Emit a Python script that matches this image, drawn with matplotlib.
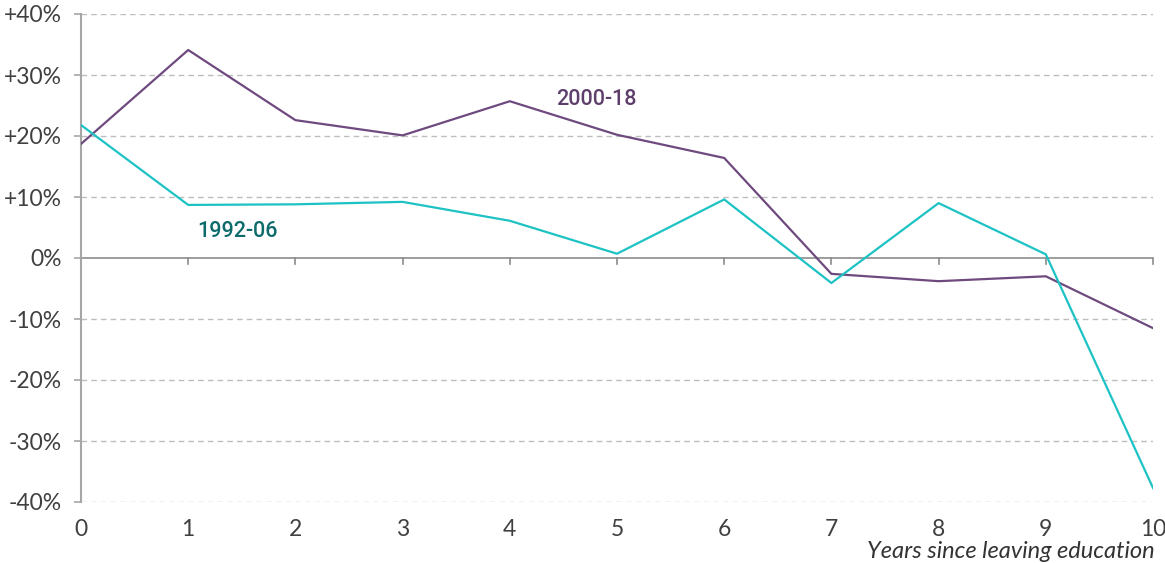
import matplotlib
matplotlib.use("Agg")
import matplotlib.pyplot as plt
from matplotlib.ticker import FuncFormatter

years = list(range(0, 11))
series_2000_18 = [18.7, 34.1, 22.6, 20.1, 25.7, 20.2, 16.4, -2.6, -3.8, -3.0, -11.5]
series_1992_06 = [21.8, 8.7, 8.8, 9.2, 6.1, 0.7, 9.6, -4.1, 9.0, 0.6, -37.7]
y_ticks = [-40, -30, -20, -10, 0, 10, 20, 30, 40]

purple = "#6E4A7E"
teal = "#1DC2C4"
grey = "#A6A6A6"
text_col = "#404040"

plt.rcParams['font.family'] = ['Lato', 'DejaVu Sans']

fig = plt.figure(figsize=(11.65, 5.63), dpi=100)
ax = fig.add_axes([81/1165, 1 - 502/563, (1153 - 81)/1165, (502 - 14)/563])

ax.plot(years, series_2000_18, color=purple, lw=1.6, zorder=3)
ax.plot(years, series_1992_06, color=teal, lw=1.6, zorder=3)

ax.set_xlim(0, 10)
ax.set_ylim(-40, 40)
ax.set_yticks(y_ticks)
ax.set_xticks(years)

def fmt(v, pos):
    v = int(round(v))
    if v > 0:
        return f"+{v}%"
    return f"{v}%"
ax.yaxis.set_major_formatter(FuncFormatter(fmt))

for v in y_ticks:
    if v != 0:
        ax.axhline(v, color="#BDBDBD", lw=1.0, ls=(0, (4, 3)), zorder=1)
ax.axhline(0, color="#8C8C8C", lw=1.2, zorder=2)

# ticks on the zero line
for x in years:
    ax.plot([x, x], [0, -1.0], color="#8C8C8C", lw=1.2, zorder=2, clip_on=False)

for s in ["top", "right", "bottom"]:
    ax.spines[s].set_visible(False)
ax.spines["left"].set_color(grey)
ax.spines["left"].set_linewidth(1.5)

ax.tick_params(axis="y", length=5, color=grey, width=1.2, labelsize=16.5, labelcolor=text_col, pad=9)
ax.tick_params(axis="x", length=0, labelsize=16.5, labelcolor=text_col, pad=12)

ax.text(4.81, 26.0, "2000-18", color="#5E3F6C", fontsize=15.5, fontweight="medium",
        family=['Roboto', 'DejaVu Sans'], ha="center", va="center")
ax.text(1.46, 4.4, "1992-06", color="#0E6B6B", fontsize=15.5, fontweight="medium",
        family=['Roboto', 'DejaVu Sans'], ha="center", va="center")

fig.text(1155/1165, 1 - 551/563, "Years since leaving education", ha="right", va="center",
         fontsize=17, style="italic", color="#333333")

fig.savefig("out.png", dpi=100)
